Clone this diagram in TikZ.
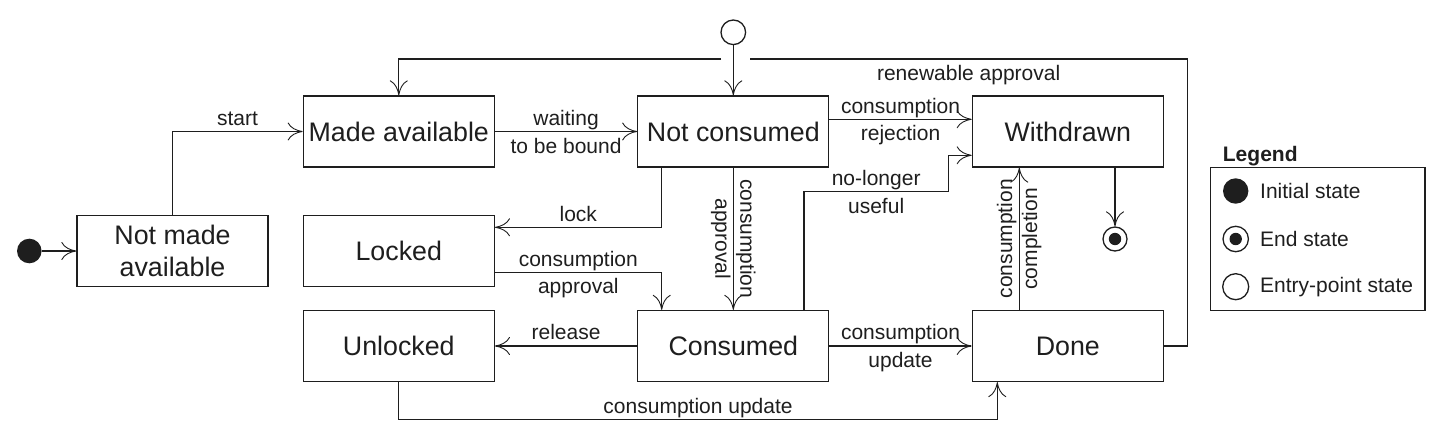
\documentclass[tikz,border=0pt]{standalone}
\usepackage{fontspec}
\setmainfont{Liberation Sans}
\usetikzlibrary{arrows.meta}
\definecolor{ink}{RGB}{30,30,30}
\begin{document}
\begin{tikzpicture}[x=1pt,y=-1pt,
  state/.style={draw=ink, line width=1.3pt, minimum width=191pt, minimum height=71pt, inner sep=0pt,
    font=\fontsize{26.8}{31.5}\selectfont, align=center, text=ink},
  conn/.style={draw=ink, line width=1.3pt, -{Computer Modern Rightarrow[length=15pt,width=18pt,line width=0.9pt]}},
  plainline/.style={draw=ink, line width=1.3pt},
  lbl/.style={font=\fontsize{21}{25}\selectfont, text=ink, inner sep=3.5pt, text height=15pt, text depth=4.5pt, yshift=-2.5pt},
  rlbl/.style={font=\fontsize{21}{25}\selectfont, text=ink, inner sep=0pt, align=center},
  initst/.style={circle, fill=ink, inner sep=0pt},
  endst/.style={circle, draw=ink, line width=1.3pt, inner sep=0pt,
    path picture={\fill[ink] (path picture bounding box.center) circle (6.2pt);}},
  entryst/.style={circle, draw=ink, line width=1.3pt, fill=white, inner sep=0pt},
  legtxt/.style={font=\fontsize{21}{25}\selectfont, text=ink, inner sep=0pt, anchor=base west},
]
\useasboundingbox (0,0) rectangle (1442,444);

% states
\node[state] (nma) at (172.5,251) {Not made\\available};
\node[state] (ma) at (398.8,131.5) {Made available};
\node[state] (lk) at (398.8,251) {Locked};
\node[state] (ul) at (398.8,346) {Unlocked};
\node[state] (nc) at (733.3,131.5) {Not consumed};
\node[state] (cs) at (733.3,346) {Consumed};
\node[state] (wd) at (1067.8,131.5) {Withdrawn};
\node[state] (dn) at (1067.8,346) {Done};

\node[initst, minimum size=24.6pt] (init) at (29.3,251) {};
\node[entryst, minimum size=24.6pt] (entry) at (733.3,32.3) {};
\node[endst, minimum size=24pt] (end) at (1115,239) {};

% helper coordinates
\coordinate (ra) at (1187.3,59);
\coordinate (g1) at (750,59);
\coordinate (g2) at (721,59);
\coordinate (u1) at (997.3,419.3);
\coordinate (nl) at (948.3,191.7);

% connectors
\draw[conn] (init) -- (nma);
\draw[conn] (nma.north) |- node[lbl,pos=0.75,above]{start} (ma.west);
\draw[conn] (ma) -- node[lbl,above]{waiting} node[lbl,below]{to be bound} (nc);
\draw[conn] (nc.east |- 0,119.3) -- node[lbl,above]{consumption} node[lbl,below]{rejection} (wd.west |- 0,119.3);
\draw[conn] (cs.north -| 804,0) |- node[lbl,pos=0.75,above]{no-longer} node[lbl,pos=0.75,below]{useful} (nl) |- (wd.west |- 0,155.3);
\draw[conn] (nc.south -| 661.7,0) |- node[lbl,pos=0.75,above]{lock} (lk.east |- 0,227.3);
\draw[conn] (lk.east |- 0,272.3) -| node[lbl,pos=0.25,above]{consumption} node[lbl,pos=0.25,below]{approval} (cs.north -| 661.7,0);
\draw[conn] (nc) -- node[rlbl,rotate=-90]{consumption\\approval} (cs);
\draw[conn] (cs) -- node[lbl,above]{release} (ul);
\draw[conn] (cs) -- node[lbl,above]{consumption} node[lbl,below]{update} (dn);
\draw[conn] (ul.south) |- node[lbl,pos=0.75,above]{consumption update} (u1) -- (dn.south -| u1);
\draw[conn] (dn.north -| 1019.3,0) -- node[rlbl,rotate=90]{consumption\\completion} (wd.south -| 1019.3,0);
\draw[conn] (wd.south -| 1115,0) -- (end);
\draw[plainline] (dn.east) -| (ra) -- node[lbl,pos=0.5,below]{renewable approval} (g1);
\draw[conn] (g2) -| (ma.north);
\draw[conn] (entry) -- (nc);

% legend
\node[font=\bfseries\fontsize{21}{25}\selectfont, text=ink, inner sep=0pt, anchor=base west] (lgt) at (1222.7,161.7) {Legend};
\node[draw=ink, line width=1.3pt, minimum width=214.7pt, minimum height=142.6pt, inner sep=0pt] (lgb) at (1317.65,239) {};
\node[initst, minimum size=25.4pt] (li) at (1235.7,191) {};
\node[endst, minimum size=25.4pt] (le) at (1235.7,239) {};
\node[entryst, minimum size=26pt] (lp) at (1235.7,286.7) {};
\node[legtxt] (lt1) at (1260,198.5) {Initial state};
\node[legtxt] (lt2) at (1260,246.3) {End state};
\node[legtxt] (lt3) at (1260,292.6) {Entry-point state};
\end{tikzpicture}
\end{document}
